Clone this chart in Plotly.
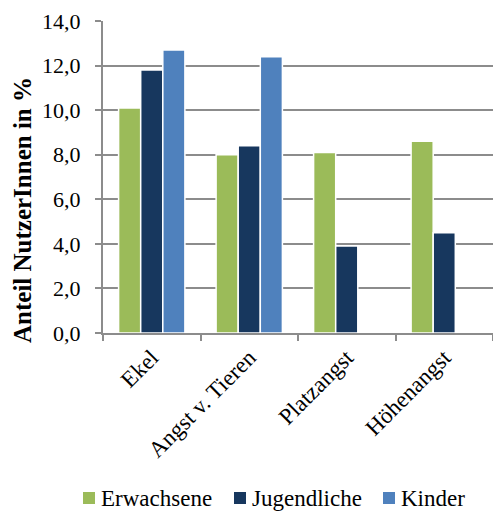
import plotly.graph_objects as go

# Anteil der NutzerInnen je Angstform und Altersgruppe (in %)
categories = ["Ekel", "Angst v. Tieren", "Platzangst", "Höhenangst"]
erwachsene = [10.1, 8.0, 8.1, 8.6]
jugendliche = [11.8, 8.4, 3.9, 4.5]
kinder = [12.7, 12.4, None, None]

y_ticks = [0, 2, 4, 6, 8, 10, 12, 14]
y_tick_labels = ["0,0", "2,0", "4,0", "6,0", "8,0", "10,0", "12,0", "14,0"]

series = [
    ("Erwachsene", erwachsene, "#9BBB59"),
    ("Jugendliche", jugendliche, "#17375E"),
    ("Kinder", kinder, "#4F81BD"),
]

FONT = "Liberation Serif"
GRID = "#8C8C8C"

W, H = 493, 515
ML, MR, MT, MB = 103, 0, 21, 182
PW, PH = W - ML - MR, H - MT - MB


def px_x(px):
    return (px - ML) / PW


def px_y(py):
    return (H - MB - py) / PH


fig = go.Figure()
for name, values, color in series:
    fig.add_trace(go.Bar(
        x=categories, y=values, name=name, showlegend=False,
        marker=dict(color=color, line=dict(color="white", width=1.5)),
    ))

# Legend row beneath the chart: coloured key square followed by the series name
legend_left = [83, 234, 383]
legend_mid = 498
key = 12
for (name, _, color), left in zip(series, legend_left):
    fig.add_shape(
        type="rect", xref="paper", yref="paper",
        x0=px_x(left), x1=px_x(left + key),
        y0=px_y(legend_mid + key / 2), y1=px_y(legend_mid - key / 2),
        fillcolor=color, line=dict(width=0),
    )
    fig.add_annotation(
        text=name, xref="paper", yref="paper",
        x=px_x(left + key + 4), y=px_y(legend_mid + 1),
        xanchor="left", yanchor="middle", showarrow=False,
        font=dict(family=FONT, size=23, color="black"),
    )

# Vertical axis title
fig.add_annotation(
    text="<b>Anteil NutzerInnen in %</b>", xref="paper", yref="paper",
    x=px_x(22), y=px_y(210), xanchor="center", yanchor="middle",
    textangle=-90, showarrow=False,
    font=dict(family=FONT, size=25, color="black"),
)

fig.update_layout(
    width=W, height=H,
    margin=dict(l=ML, r=MR, t=MT, b=MB),
    paper_bgcolor="white", plot_bgcolor="white",
    font=dict(family=FONT, size=22, color="black"),
    barmode="group", bargap=0.32, bargroupgap=0,
    showlegend=False,
)

fig.update_xaxes(
    type="category", showgrid=False,
    showline=True, linecolor=GRID, linewidth=2,
    ticks="outside", tickson="boundaries", ticklen=6, tickcolor=GRID, tickwidth=2,
    tickangle=-45, tickfont=dict(family=FONT, size=23),
)
fig.update_yaxes(
    range=[0, 14], tickvals=y_ticks, ticktext=y_tick_labels,
    showgrid=True, gridcolor=GRID, gridwidth=2,
    showline=True, linecolor=GRID, linewidth=2,
    ticks="outside", ticklen=6, tickcolor=GRID, tickwidth=2,
    ticklabelstandoff=10,
    tickfont=dict(family=FONT, size=22),
    zeroline=False,
)

fig.write_html("out.html")
